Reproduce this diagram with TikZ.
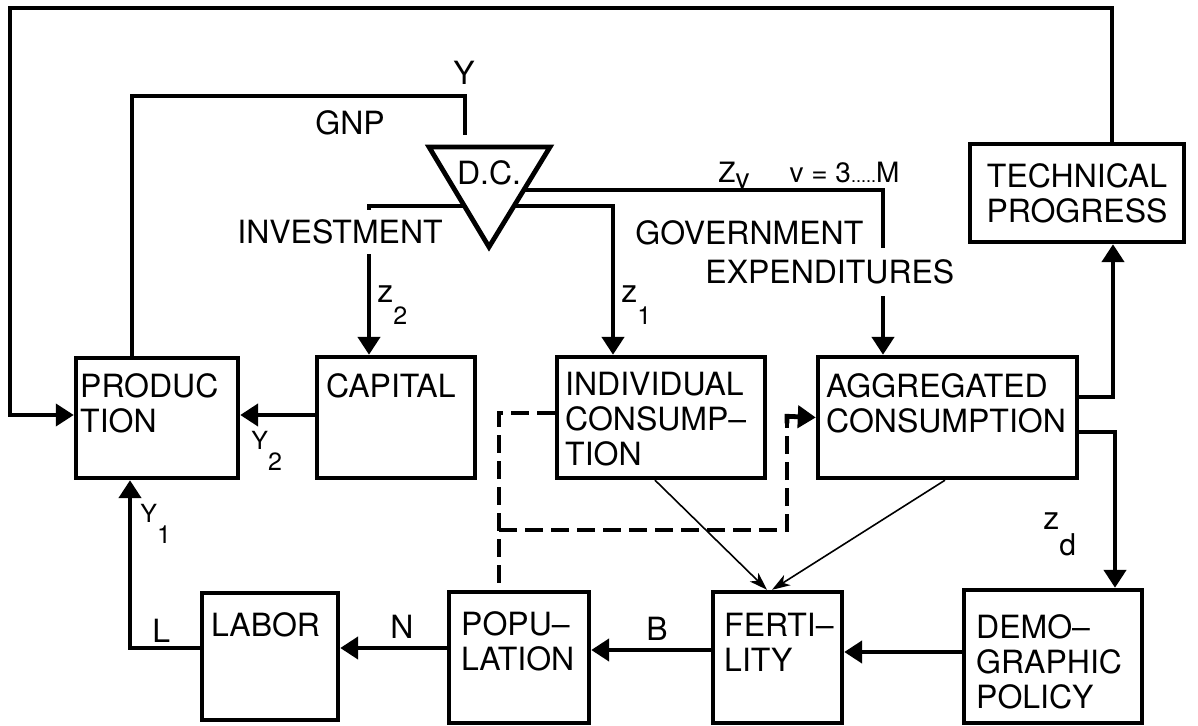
\documentclass[tikz,border=0pt]{standalone}
\usepackage{fontspec}
\setmainfont{TeX Gyre Heros}
\usetikzlibrary{arrows.meta,calc}
\newcommand\lsub[2][10.5pt]{\raisebox{-#1}{#2}}
\newcommand\zsym[2][11pt]{{\fontsize{16}{16}\selectfont z}\raisebox{-#1}{\fontsize{12.5}{13}\selectfont #2}}
\begin{document}
\begin{tikzpicture}[x=0.5pt,y=-0.5pt,
  box/.style={draw,line width=2.2pt,inner sep=0pt},
  bigfont/.style={font=\fontsize{16}{17.5}\selectfont},
  txt/.style={bigfont,inner sep=0pt,align=left,anchor=north west},
  arr/.style={line width=2.2pt,-{Triangle[length=9pt,width=11pt]}},
  thinarr/.style={line width=0.8pt,-{Stealth[length=9pt,width=6pt,inset=2.5pt]}},
  dashline/.style={line width=2.4pt,dash pattern=on 9pt off 4pt},
  sublabel/.style={font=\fontsize{12.5}{14}\selectfont,inner sep=0pt,anchor=base west},
  biglabel/.style={bigfont,inner sep=0pt,anchor=base west}]

\useasboundingbox (0,0) rectangle (1198,726);

% boxes
\node[box,minimum width=81pt,minimum height=60pt,
  label={[txt,xshift=3pt,yshift=-8.5pt]north west:PRODUC\\TION}] (prod) at (157,418) {};
\node[box,minimum width=79pt,minimum height=60.5pt,
  label={[txt,xshift=5.5pt,yshift=-9pt]north west:CAPITAL}] (cap) at (396,417.5) {};
\node[box,minimum width=104pt,minimum height=60.5pt,
  label={[txt,xshift=5pt,yshift=-8.5pt]north west:INDIVIDUAL\\CONSUMP--\\TION}] (ind) at (661,417.5) {};
\node[box,minimum width=129.5pt,minimum height=60.5pt,
  label={[txt,xshift=5pt,yshift=-9pt]north west:AGGREGATED\\CONSUMPTION}] (agg) at (947.5,417.5) {};
\node[box,minimum width=107pt,minimum height=49pt,bigfont,align=center] (tech) at (1077,193) {TECHNICAL\\PROGRESS};
\node[box,minimum width=68pt,minimum height=63.5pt,
  label={[txt,xshift=5.5pt,yshift=-10.5pt]north west:LABOR}] (labor) at (270,656.5) {};
\node[box,minimum width=70pt,minimum height=65.5pt,
  label={[txt,xshift=7pt,yshift=-10.5pt]north west:POPU--\\LATION}] (pop) at (519,657.5) {};
\node[box,minimum width=64.5pt,minimum height=65.5pt,
  label={[txt,xshift=6.5pt,yshift=-11.5pt]north west:FERTI--\\LITY}] (fert) at (777.5,657.5) {};
\node[box,minimum width=89pt,minimum height=66.5pt,
  label={[txt,xshift=7pt,yshift=-13pt]north west:DEMO--\\GRAPHIC\\POLICY}] (demo) at (1053,656.5) {};

% decision centre triangle
\coordinate (dcl) at (429,147);
\coordinate (dcr) at (550,147);
\coordinate (dcb) at (489,247);
\draw[line width=2.4pt,line join=miter] (dcl) -- (dcr) -- (dcb) -- cycle;
\node[bigfont,inner sep=0pt] (dc) at (489,173) {D.C.};

% top feedback loop
\coordinate (tl) at (10,8);
\draw[arr,line width=2pt] ($(tech.north)+(35,0)$) |- (tl) |- ($(prod.west)+(0,-3)$);

% GNP loop
\coordinate (gn) at (465,96);
\coordinate (gnend) at (465,135);
\draw[line width=2.2pt] ($(prod.north)+(-25,0)$) |- (gn) -- (gnend);

% outputs of D.C.
\draw[arr] ($(dcl)!0.59!(dcb)$) -| ($(cap.north)+(-27,0)$);
\draw[arr] ($(dcr)!0.59!(dcb)$) -| ($(ind.north)+(-48,0)$);
\draw[arr] ($(dcr)!0.43!(dcb)$) -| ($(agg.north)+(-64.5,0)$);

% capital -> production
\coordinate (y2c) at ($(cap.west)+(0,-2.5)$);
\draw[arr] (y2c) -- (y2c -| prod.east);

% labor -> production
\draw[arr] ($(labor.west)+(0,-8.5)$) -| ($(prod.south)+(-27,0)$);

% bottom chain
\coordinate (pn) at ($(pop.west)+(0,-9.5)$);
\draw[arr] (pn) -- (pn -| labor.east);
\coordinate (fb) at ($(fert.west)+(0,-7.5)$);
\draw[arr] (fb) -- (fb -| pop.east);
\coordinate (df) at ($(demo.west)+(0,-4.5)$);
\draw[arr] (df) -- (df -| fert.east);

% aggregated consumption outputs
\draw[arr] ($(agg.east)+(0,-20.5)$) -| ($(tech.south)+(36,0)$);
\draw[arr] ($(agg.east)+(0,14.5)$) -| ($(demo.north)+(62,0)$);

% thin arrows to fertility
\draw[thinarr] ($(ind.south)+(-6,0)$) -- ($(fert.north)+(-10.5,0)$);
\draw[thinarr] ($(agg.south)+(-2.5,0)$) -- ($(fert.north)+(-5.5,0)$);

% dashed links
\coordinate (dj) at (499,530);
\coordinate (dk) at (787,530);
\coordinate (dm) at (dk |- agg.west);
\draw[dashline] ($(ind.west)+(0,-4.5)$) -| (dj) -- (dj |- pop.north);
\draw[dashline] (dj) -- (dk) -- ($(dm)+(0,6)$);
\draw[arr,line width=2.4pt] ($(dm)+(0,6)$) -- ($(dm)+(0,-1.2)$) -- (agg.west);

% labels
\node[biglabel] (ylab) at (453,85) {Y};
\node[biglabel] (gnplab) at (315,135) {GNP};
\node[bigfont,fill=white,inner xsep=0pt,inner ysep=5pt] (invlab) at (340,232) {INVESTMENT};
\node[bigfont,inner sep=0pt,anchor=west] (govlab) at (635,233) {GOVERNMENT};
\node[bigfont,fill=white,inner xsep=0pt,inner ysep=6pt,anchor=west] (explab) at (705,272) {EXPENDITURES};
\node[font=\fontsize{14}{16}\selectfont,inner sep=0pt,anchor=base west] (zvlab) at (718,183)
  {Z\lsub[3pt]{v}\hspace{20pt}v = 3{\small.....}M};
\node[inner sep=0pt,anchor=base west] (z2lab) at (377,303) {\zsym{2}};
\node[inner sep=0pt,anchor=base west] (z1lab) at (621,303) {\zsym{1}};
\node[sublabel] (y2lab) at (251,450) {Y\lsub{2}};
\node[sublabel] (y1lab) at (140,522) {Y\lsub{1}};
\node[inner sep=0pt,anchor=base west] (zdlab) at (1043,530) {\zsym[13pt]{\fontsize{15}{15}\selectfont d}};
\node[biglabel] (llab) at (152,642) {L};
\node[biglabel] (nlab) at (390,638) {N};
\node[biglabel] (blab) at (646,640) {B};
\end{tikzpicture}
\end{document}
